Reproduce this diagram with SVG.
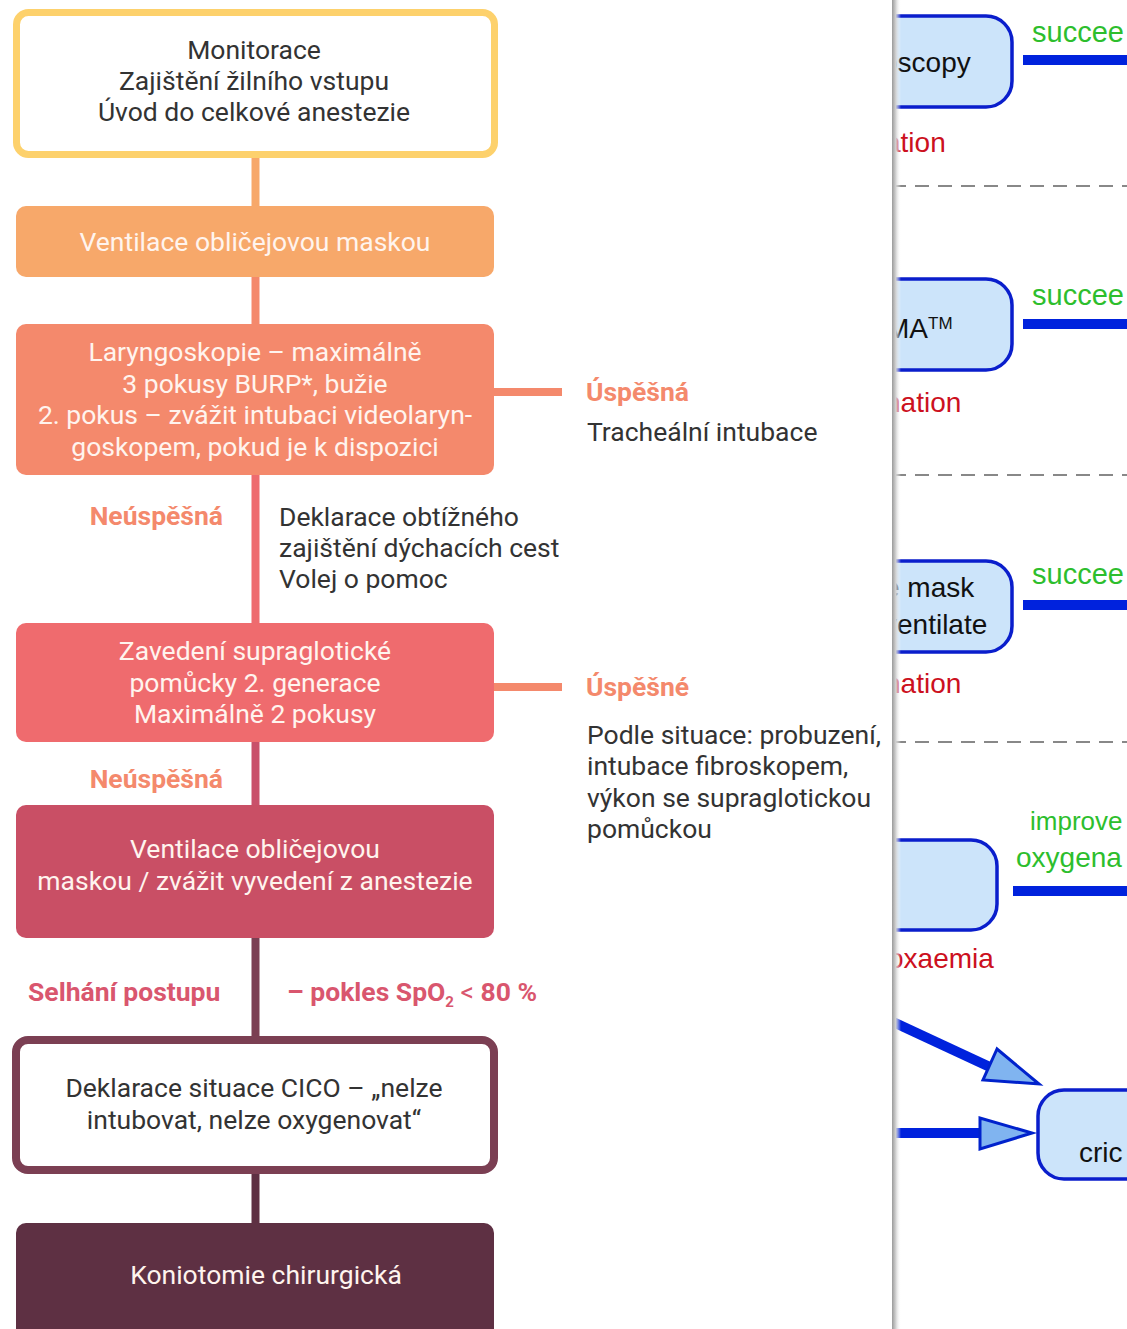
<svg xmlns="http://www.w3.org/2000/svg" width="1127" height="1329" viewBox="0 0 1127 1329">
<style>
.t{font-family:Roboto,"Liberation Sans",sans-serif;font-size:26.5px;}
.c{text-anchor:middle;}
.w{fill:#FFF4EE;}
.d{fill:#333333;}
.b{font-weight:bold;}
.lab{fill:#F4896C;}
.red{fill:#D9566E;}
.a{font-family:"Liberation Sans",Arial,sans-serif;font-size:28px;}
.g{fill:#2DBE2D;}
.r{fill:#CC1020;}
.k{fill:#111111;}
.box{fill:#CCE4FA;stroke:#0A1ECC;stroke-width:3.5;}
.bl{stroke:#0022DD;stroke-width:10;fill:none;}
.dash{stroke:#888888;stroke-width:2;stroke-dasharray:14 9;fill:none;}
.head{fill:#80B4F0;stroke:#0022CC;stroke-width:3;stroke-linejoin:miter;}
</style>
<defs>
<clipPath id="rp"><rect x="892" y="0" width="235" height="1329"/></clipPath>
<linearGradient id="sh" x1="0" y1="0" x2="1" y2="0">
<stop offset="0" stop-color="#9A9A9A"/>
<stop offset="0.4" stop-color="#CFCFCF"/>
<stop offset="1" stop-color="#FFFFFF" stop-opacity="0"/>
</linearGradient>
</defs>
<rect width="1127" height="1329" fill="#FFFFFF"/>

<g id="connectors">
<line x1="255.5" y1="157" x2="255.5" y2="206" stroke="#F7A86A" stroke-width="8"/>
<line x1="255.5" y1="277" x2="255.5" y2="324" stroke="#F4896C" stroke-width="8"/>
<line x1="494" y1="392" x2="562" y2="392" stroke="#F4896C" stroke-width="8"/>
<line x1="255.5" y1="475" x2="255.5" y2="623" stroke="#EE6B6F" stroke-width="8"/>
<line x1="494" y1="687" x2="562" y2="687" stroke="#F4896C" stroke-width="8"/>
<line x1="255.5" y1="742" x2="255.5" y2="805" stroke="#C9506A" stroke-width="8"/>
<line x1="255.5" y1="938" x2="255.5" y2="1038" stroke="#7B3F53" stroke-width="8"/>
<line x1="255.5" y1="1172" x2="255.5" y2="1223" stroke="#5E3043" stroke-width="8"/>
</g>

<g id="n1">
<rect x="16.5" y="12.5" width="478" height="142" rx="12" fill="#FFFFFF" stroke="#FDD16C" stroke-width="7"/>
<text class="t c d" x="254" y="59">Monitorace</text>
<text class="t c d" x="254" y="90">Zajištění žilního vstupu</text>
<text class="t c d" x="254" y="121">Úvod do celkové anestezie</text>
</g>

<g id="n2">
<rect x="16" y="206" width="478" height="71" rx="10" fill="#F7A86A"/>
<text class="t c w" x="255" y="251">Ventilace obličejovou maskou</text>
</g>

<g id="n3">
<rect x="16" y="324" width="478" height="151" rx="10" fill="#F4896C"/>
<text class="t c w" x="255" y="361">Laryngoskopie – maximálně</text>
<text class="t c w" x="255" y="393">3 pokusy BURP*, bužie</text>
<text class="t c w" x="255" y="424">2. pokus – zvážit intubaci videolaryn-</text>
<text class="t c w" x="255" y="456">goskopem, pokud je k dispozici</text>
</g>

<g id="l1">
<text class="t b lab" x="586" y="401">Úspěšná</text>
<text class="t d" x="587" y="441">Tracheální intubace</text>
</g>

<g id="l2">
<text class="t b lab" x="223" y="525" text-anchor="end">Neúspěšná</text>
<text class="t d" x="279" y="526">Deklarace obtížného</text>
<text class="t d" x="279" y="557">zajištění dýchacích cest</text>
<text class="t d" x="279" y="588">Volej o pomoc</text>
</g>

<g id="n4">
<rect x="16" y="623" width="478" height="119" rx="10" fill="#EF6B6E"/>
<text class="t c w" x="255" y="660">Zavedení supraglotické</text>
<text class="t c w" x="255" y="692">pomůcky 2. generace</text>
<text class="t c w" x="255" y="723">Maximálně 2 pokusy</text>
</g>

<g id="l3">
<text class="t b lab" x="586" y="696">Úspěšné</text>
<text class="t d" x="587" y="744">Podle situace: probuzení,</text>
<text class="t d" x="587" y="775">intubace fibroskopem,</text>
<text class="t d" x="587" y="807">výkon se supraglotickou</text>
<text class="t d" x="587" y="838">pomůckou</text>
</g>

<g id="l4">
<text class="t b lab" x="223" y="788" text-anchor="end">Neúspěšná</text>
</g>

<g id="n5">
<rect x="16" y="805" width="478" height="133" rx="10" fill="#C94F65"/>
<text class="t c w" x="255" y="858">Ventilace obličejovou</text>
<text class="t c w" x="255" y="890">maskou / zvážit vyvedení z anestezie</text>
</g>

<g id="l5">
<text class="t b red" x="28" y="1001">Selhání postupu</text>
<text class="t b red" x="287" y="1001">– pokles SpO<tspan style="font-size:15px" dy="6">2</tspan><tspan dy="-6" font-weight="normal"> &lt; </tspan>80 %</text>
</g>

<g id="n6">
<rect x="16" y="1040" width="478" height="130" rx="12" fill="#FFFFFF" stroke="#7B3F53" stroke-width="8"/>
<text class="t c d" x="254" y="1097">Deklarace situace CICO – „nelze</text>
<text class="t c d" x="254" y="1129">intubovat, nelze oxygenovat“</text>
</g>

<g id="n7">
<rect x="16" y="1223" width="478" height="120" rx="10" fill="#5E3043"/>
<text class="t c w" x="266" y="1284">Koniotomie chirurgická</text>
</g>

<g id="right-panel" clip-path="url(#rp)">
<rect x="892" y="0" width="235" height="1329" fill="#FFFFFF"/>
<g id="r-box1"><rect class="box" x="860" y="16" width="152" height="91" rx="26"/>
<text class="a k" x="882" y="72">oscopy</text></g>
<g id="r-box2"><rect class="box" x="860" y="279" width="152" height="91" rx="26"/>
<text class="a k" x="886" y="338">MA<tspan style="font-size:17px" dy="-9">TM</tspan></text></g>
<g id="r-box3"><rect class="box" x="860" y="561" width="152" height="91" rx="26"/>
<text class="a k" x="884" y="597">e mask</text>
<text class="a k" x="883" y="634">ventilate</text></g>
<g id="r-box4"><rect class="box" x="845" y="840" width="152" height="90" rx="26"/></g>
<g id="r-box5"><rect class="box" x="1038" y="1090" width="130" height="89" rx="26"/>
<text class="a k" x="1079" y="1162">cric</text></g>
<g id="r-lines">
<line class="bl" x1="1023" y1="60" x2="1127" y2="60"/>
<line class="bl" x1="1023" y1="324" x2="1127" y2="324"/>
<line class="bl" x1="1023" y1="605" x2="1127" y2="605"/>
<line class="bl" x1="1013" y1="891" x2="1127" y2="891"/>
<line class="dash" x1="892" y1="186" x2="1127" y2="186"/>
<line class="dash" x1="892" y1="475" x2="1127" y2="475"/>
<line class="dash" x1="892" y1="742" x2="1127" y2="742"/>
<line class="bl" x1="880" y1="1016" x2="992" y2="1068" stroke-width="11"/>
<polygon class="head" points="997,1049 983,1080 1039,1084"/>
<line class="bl" x1="880" y1="1133" x2="982" y2="1133"/>
<polygon class="head" points="980,1118 980,1149 1032,1133"/>
</g>
<g id="r-labels">
<text class="a g" x="1032" y="42" style="font-size:29px">succee</text>
<text class="a g" x="1032" y="305" style="font-size:29px">succee</text>
<text class="a g" x="1032" y="584" style="font-size:29px">succee</text>
<text class="a g" x="1030" y="830" style="font-size:26px">improve</text>
<text class="a g" x="1016" y="867">oxygena</text>
<text class="a r" x="885" y="152">ation</text>
<text class="a r" x="885" y="412">nation</text>
<text class="a r" x="885" y="693">nation</text>
<text class="a r" x="888" y="968">oxaemia</text>
</g>
<rect x="892" y="0" width="9" height="1329" fill="url(#sh)"/>
</g>
</svg>
